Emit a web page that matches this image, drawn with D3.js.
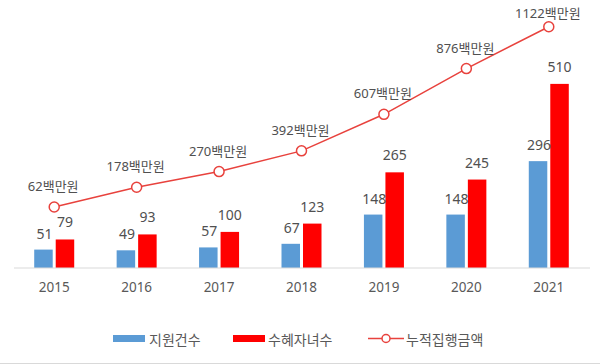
<!DOCTYPE html>
<html><head><meta charset="utf-8">
<script src="https://cdn.jsdelivr.net/npm/d3@7"></script>
<style>
html,body{margin:0;padding:0;background:#fff;}
svg{display:block;}
</style></head>
<body>
<svg id="c" width="600" height="364"></svg>
<script>
const years = ["2015","2016","2017","2018","2019","2020","2021"];
const applications = [51, 49, 57, 67, 148, 148, 296];      // 지원건수
const recipients = [79, 93, 100, 123, 265, 245, 510];      // 수혜자녀수
const cumulative = [62, 178, 270, 392, 607, 876, 1122];    // 누적집행금액 (백만원)
const seriesNames = ["지원건수", "수혜자녀수", "누적집행금액"];
const unit = "백만원";

const colors = {blue: "#5b9bd5", red: "#ff0000", line: "#e8423d", text: "#505050", axis: "#595959"};
const fontFam = "'Noto Sans', 'Noto Sans CJK KR', sans-serif";
const svg = d3.select("#c");

const x = d3.scaleBand().domain(years).range([13, 590]);
const y = d3.scaleLinear().domain([0, 600]).range([268, 268 - 0.361 * 600]);
const y2 = d3.scaleLinear().domain([0, 1200]).range([217.5, 217.5 - 0.17 * 1200]);

const bw = 18.5, gap = 3;

// bottom border line
svg.append("line").attr("x1", 0).attr("x2", 600).attr("y1", 363.5).attr("y2", 363.5)
  .attr("stroke", "#d9d9d9").attr("stroke-width", 1);

// bars
const cx = d => x(d) + x.bandwidth() / 2;
svg.append("g").selectAll("rect").data(years).join("rect")
  .attr("x", d => cx(d) - gap / 2 - bw).attr("width", bw)
  .attr("y", (d, i) => y(applications[i])).attr("height", (d, i) => y(0) - y(applications[i]))
  .attr("fill", colors.blue);
svg.append("g").selectAll("rect").data(years).join("rect")
  .attr("x", d => cx(d) + gap / 2).attr("width", bw)
  .attr("y", (d, i) => y(recipients[i])).attr("height", (d, i) => y(0) - y(recipients[i]))
  .attr("fill", colors.red);

// x axis
const xAxis = d3.axisBottom(x).tickSize(0).tickPadding(14);
const gx = svg.append("g").attr("transform", "translate(0,268)").call(xAxis);
gx.select(".domain").attr("stroke", "#d9d9d9").attr("stroke-width", 1.2).attr("d", "M14,0H590");
gx.selectAll("text").attr("font-family", fontFam).attr("font-size", 13.5).attr("fill", colors.axis);

// bar labels
svg.append("g").selectAll("text").data(years).join("text")
  .attr("x", d => cx(d) - gap / 2 - bw / 2 + 1).attr("y", (d, i) => y(applications[i]) - 11)
  .attr("text-anchor", "middle").attr("font-family", fontFam).attr("font-size", 14)
  .attr("fill", colors.text).text((d, i) => applications[i]);
svg.append("g").selectAll("text").data(years).join("text")
  .attr("x", d => cx(d) + gap / 2 + bw / 2).attr("y", (d, i) => y(recipients[i]) - 12)
  .attr("text-anchor", "middle").attr("font-family", fontFam).attr("font-size", 14)
  .attr("fill", colors.text).text((d, i) => recipients[i]);

// line
const line = d3.line().x((d, i) => cx(years[i])).y(d => y2(d));
svg.append("path").datum(cumulative).attr("d", line)
  .attr("fill", "none").attr("stroke", colors.line).attr("stroke-width", 1.5);
svg.append("g").selectAll("circle").data(cumulative).join("circle")
  .attr("cx", (d, i) => cx(years[i])).attr("cy", d => y2(d)).attr("r", 5)
  .attr("fill", "#fff").attr("stroke", colors.line).attr("stroke-width", 1.5);
svg.append("g").selectAll("text").data(cumulative).join("text")
  .attr("x", (d, i) => cx(years[i]) - 1).attr("y", d => Math.max(y2(d) - 16, 18))
  .attr("text-anchor", "middle").attr("font-family", fontFam).attr("font-size", 13)
  .attr("fill", colors.text).text(d => d + unit);

// legend
const lg = svg.append("g").attr("font-family", fontFam).attr("font-size", 14).attr("fill", colors.axis);
lg.append("rect").attr("x", 113).attr("y", 335).attr("width", 32).attr("height", 7).attr("fill", colors.blue);
lg.append("text").attr("x", 149).attr("y", 344.5).text(seriesNames[0]);
lg.append("rect").attr("x", 233).attr("y", 335).attr("width", 32).attr("height", 7).attr("fill", colors.red);
lg.append("text").attr("x", 268).attr("y", 344.5).text(seriesNames[1]);
lg.append("line").attr("x1", 368).attr("x2", 404).attr("y1", 338.5).attr("y2", 338.5)
  .attr("stroke", colors.line).attr("stroke-width", 1.5);
lg.append("circle").attr("cx", 386).attr("cy", 338.5).attr("r", 4)
  .attr("fill", "#fff").attr("stroke", colors.line).attr("stroke-width", 1.5);
lg.append("text").attr("x", 406).attr("y", 344.5).text(seriesNames[2]);
</script>
</body></html>
